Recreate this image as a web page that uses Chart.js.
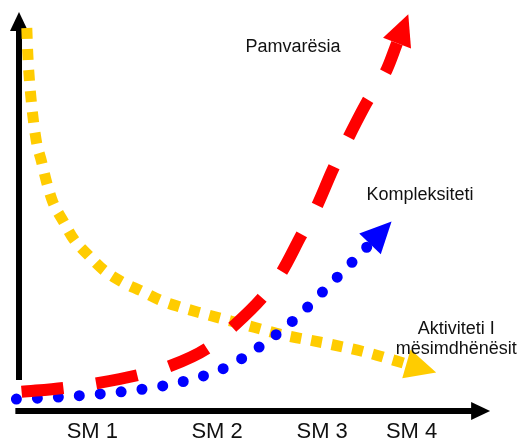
<!DOCTYPE html>
<html>
<head>
<meta charset="utf-8">
<script src="https://cdn.jsdelivr.net/npm/chart.js@4/dist/chart.umd.min.js"></script>
<style>
  body { margin: 0; background: #fff; }
  #wrap { width: 521px; height: 441px; }
</style>
</head>
<body>
<div id="wrap"><canvas id="trendChart"></canvas></div>
<script>
// tick labels of the semester axis and where they sit
const tickLabels = ['SM 1', 'SM 2', 'SM 3', 'SM 4'];
const tickValues = [0.93, 2.13, 3.14, 4];

// Pamvarësia (red, dashed)
const redX = [0.25, 0.66, 0.98, 1.37, 1.68, 2.04, 2.28, 2.56, 2.75, 2.93, 3.09, 3.24, 3.39, 3.57, 3.76, 3.86];
const redY = [4.8, 5.8, 7.0, 9.0, 11.3, 15.8, 21.1, 28.3, 34.8, 43.6, 51.4, 60.4, 68.4, 77.4, 85.5, 92.2];

// Kompleksiteti (blue, dotted)
const blueX = [0.2, 0.61, 1.01, 1.42, 1.82, 2.22, 2.56, 2.89, 3.18, 3.47, 3.6];
const blueY = [3.0, 3.5, 4.3, 5.5, 7.5, 11.0, 16.5, 23.3, 30.8, 38.4, 41.9];

// Aktiviteti I mësimdhënësit (yellow, square dots)
const yellowX = [0.3, 0.31, 0.34, 0.39, 0.44, 0.49, 0.55, 0.65, 0.75, 0.89, 1.04, 1.22, 1.4, 1.58, 1.77, 1.97, 2.37, 2.76, 3.17, 3.55, 3.95];
const yellowY = [96.0, 89.2, 78.5, 67.9, 62.7, 57.4, 52.4, 47.6, 43.1, 39.1, 35.3, 32.3, 30.1, 27.8, 26.1, 24.6, 21.8, 19.1, 17.0, 14.8, 11.8];

const toPoints = (xs, ys) => xs.map((x, i) => ({ x: x, y: ys[i] }));

// labels written on the drawing
const notes = [
  { text: 'Pamvarësia', x: 2.86, y: 91.2 },
  { text: 'Kompleksiteti', x: 4.08, y: 54.2 },
  { text: 'Aktiviteti I', x: 4.43, y: 20.6 },
  { text: 'mësimdhënësit', x: 4.43, y: 15.6 }
];

// black axis arrows + arrow heads on the curves + notes
const drawingPlugin = {
  id: 'drawing',
  beforeDatasetsDraw(chart) {
    const ctx = chart.ctx;
    const xs = chart.scales.x, ys = chart.scales.y;
    ctx.save();
    ctx.fillStyle = '#000';
    ctx.strokeStyle = '#000';
    ctx.lineWidth = 6;
    // vertical axis
    let ax = xs.getPixelForValue(0.225);
    let top = ys.getPixelForValue(100);
    let low = ys.getPixelForValue(7.8);
    ctx.beginPath();
    ctx.moveTo(ax, low);
    ctx.lineTo(ax, top + 16);
    ctx.stroke();
    ctx.beginPath();
    ctx.moveTo(ax, top);
    ctx.lineTo(ax - 9, top + 19);
    ctx.lineTo(ax + 9, top + 19);
    ctx.closePath();
    ctx.fill();
    // horizontal axis
    let ay = ys.getPixelForValue(0);
    let x0 = xs.getPixelForValue(0.19);
    let x1 = xs.getPixelForValue(4.755);
    ctx.beginPath();
    ctx.moveTo(x0, ay);
    ctx.lineTo(x1 - 16, ay);
    ctx.stroke();
    ctx.beginPath();
    ctx.moveTo(x1, ay);
    ctx.lineTo(x1 - 19, ay - 9);
    ctx.lineTo(x1 - 19, ay + 9);
    ctx.closePath();
    ctx.fill();
    ctx.restore();
  },
  afterDatasetsDraw(chart) {
    const ctx = chart.ctx;
    ctx.save();
    chart.data.datasets.forEach((ds, i) => {
      const pts = chart.getDatasetMeta(i).data;
      const a = pts[pts.length - 2], b = pts[pts.length - 1];
      let dx = b.x - a.x, dy = b.y - a.y;
      const len = Math.hypot(dx, dy);
      dx /= len; dy /= len;
      const L = 31, W = 15;
      ctx.fillStyle = ds.borderColor;
      ctx.beginPath();
      ctx.moveTo(b.x + dx * L, b.y + dy * L);
      ctx.lineTo(b.x - dy * W, b.y + dx * W);
      ctx.lineTo(b.x + dy * W, b.y - dx * W);
      ctx.closePath();
      ctx.fill();
    });
    const xs = chart.scales.x, ys = chart.scales.y;
    ctx.fillStyle = '#111';
    ctx.font = '18px "Liberation Sans", Arial, sans-serif';
    ctx.textAlign = 'center';
    ctx.textBaseline = 'middle';
    notes.forEach(n => {
      ctx.fillText(n.text, xs.getPixelForValue(n.x), ys.getPixelForValue(n.y));
    });
    ctx.restore();
  }
};

const trendCtx = document.getElementById('trendChart');

new Chart(trendCtx, {
  type: 'line',
  data: {
    datasets: [{
      label: 'Pamvarësia',
      data: toPoints(redX, redY),
      borderColor: '#ff0000',
      borderWidth: 12,
      borderDash: [42, 33],
      borderCapStyle: 'butt'
    }, {
      label: 'Kompleksiteti',
      data: toPoints(blueX, blueY),
      borderColor: '#0000ff',
      borderWidth: 11,
      borderDash: [0, 21],
      borderCapStyle: 'round'
    }, {
      label: 'Aktiviteti I mësimdhënësit',
      data: toPoints(yellowX, yellowY),
      borderColor: '#ffcc00',
      borderWidth: 11,
      borderDash: [11, 10],
      borderCapStyle: 'butt'
    }]
  },
  options: {
    responsive: true,
    maintainAspectRatio: false,
    animation: false,
    events: [],
    clip: false,
    elements: {
      point: { radius: 0 },
      line: { cubicInterpolationMode: 'monotone', fill: false }
    },
    layout: {
      padding: { left: 6, right: 21, top: 12, bottom: -12 }
    },
    plugins: {
      legend: { display: false },
      tooltip: { enabled: false }
    },
    scales: {
      x: {
        type: 'linear',
        min: 0.1,
        max: 4.85,
        grid: { display: false, drawTicks: false },
        border: { display: false },
        afterBuildTicks: (scale) => {
          scale.ticks = tickValues.map(v => ({ value: v }));
        },
        ticks: {
          autoSkip: false,
          maxRotation: 0,
          padding: 10,
          color: '#111',
          font: { family: '"Liberation Sans", Arial, sans-serif', size: 22, lineHeight: 1 },
          callback: (value, index) => tickLabels[index]
        }
      },
      y: {
        display: false,
        min: 0,
        max: 100
      }
    }
  },
  plugins: [drawingPlugin]
});
</script>
</body>
</html>
